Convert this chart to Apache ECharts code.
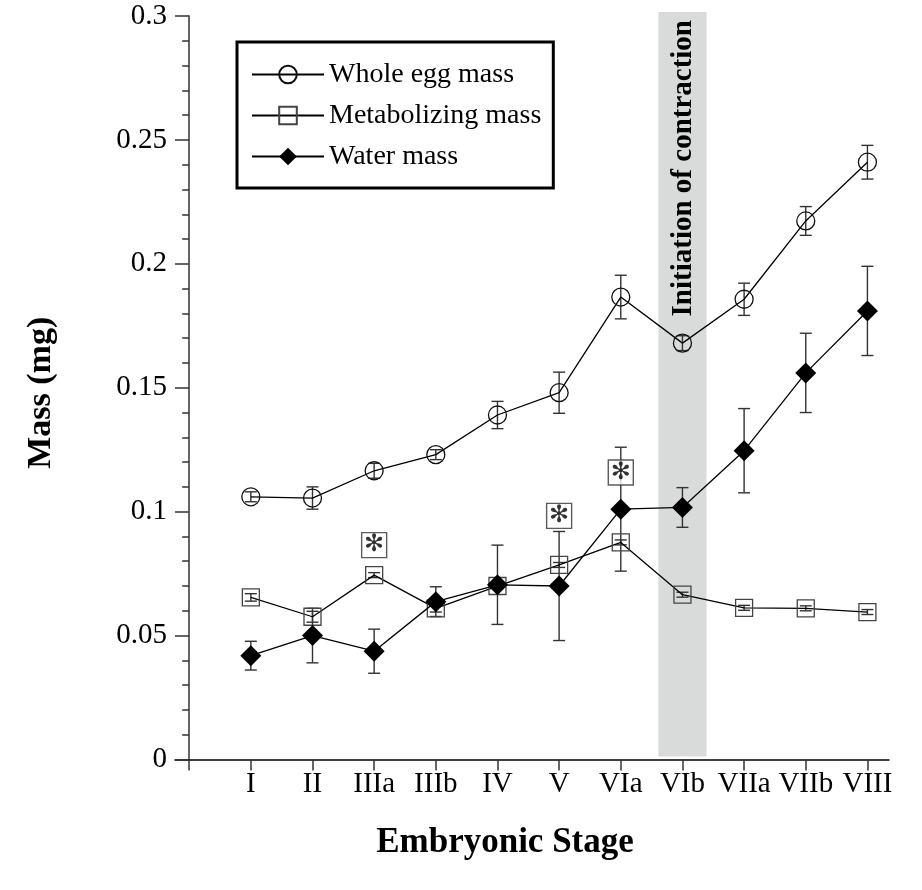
<!DOCTYPE html>
<html>
<head>
<meta charset="utf-8">
<script src="https://cdn.jsdelivr.net/npm/echarts@6/dist/echarts.min.js"></script>
<style>
  html, body { margin: 0; padding: 0; background: #fff; }
  #chart { width: 922px; height: 890px; }
</style>
</head>
<body>
<div id="chart"></div>
<script>
// Embryonic stages along the x axis
const stages = ['I', 'II', 'IIIa', 'IIIb', 'IV', 'V', 'VIa', 'VIb', 'VIIa', 'VIIb', 'VIII'];

// Mean masses (mg) and their error half-widths
const wholeEggMass = [0.106, 0.1055, 0.1165, 0.123, 0.139, 0.148, 0.1866, 0.168, 0.1857, 0.2173, 0.241];
const wholeEggErr  = [0.002, 0.0045, 0.003, 0.002, 0.0055, 0.0083, 0.0088, 0.003, 0.0065, 0.0058, 0.0068];
const metabolizingMass = [0.0654, 0.0576, 0.0744, 0.061, 0.070, 0.0785, 0.0876, 0.0665, 0.0612, 0.061, 0.0595];
const metabolizingErr  = [0.0015, 0.0022, 0.001, 0.0015, 0.001, 0.001, 0.001, 0.001, 0.001, 0.001, 0.001];
const waterMass = [0.0419, 0.050, 0.0437, 0.0637, 0.0705, 0.070, 0.101, 0.1017, 0.1246, 0.156, 0.181];
const waterErr  = [0.0058, 0.011, 0.0089, 0.006, 0.016, 0.022, 0.025, 0.008, 0.017, 0.016, 0.018];

// Significance markers (stage, height in mg)
const significantStages = ['IIIa', 'V', 'VIa'];
const significantHeights = [0.0865, 0.0983, 0.1158];

// Stage at which contraction starts
const contractionStage = 'VIb';

// Y axis ticks
const yTicks = [0, 0.05, 0.1, 0.15, 0.2, 0.25, 0.3];

const FONT = '"Liberation Serif", "Times New Roman", serif';
const pos = s => stages.indexOf(s) + 1;
const xPositions = stages.map((s, i) => i + 1);

function pairs(values) {
  return values.map((v, i) => [i + 1, v]);
}

function errorBars(values, errors) {
  return {
    type: 'custom',
    silent: true,
    z: 3,
    encode: { x: 0, y: 1 },
    data: values.map((v, i) => [i + 1, v, errors[i]]),
    renderItem(params, api) {
      const x = api.value(0), y = api.value(1), e = api.value(2);
      const top = api.coord([x, y + e]);
      const bot = api.coord([x, y - e]);
      const cap = 6;
      const st = { stroke: '#333', lineWidth: 1.4 };
      return {
        type: 'group',
        children: [
          { type: 'line', shape: { x1: top[0], y1: top[1], x2: bot[0], y2: bot[1] }, style: st },
          { type: 'line', shape: { x1: top[0] - cap, y1: top[1], x2: top[0] + cap, y2: top[1] }, style: st },
          { type: 'line', shape: { x1: bot[0] - cap, y1: bot[1], x2: bot[0] + cap, y2: bot[1] }, style: st }
        ]
      };
    }
  };
}

const lineStyle = { color: '#000', width: 1.3 };

const chart = echarts.init(document.getElementById('chart'), null, { renderer: 'canvas' });

chart.setOption({
  backgroundColor: '#fff',
  animation: false,
  grid: { left: 175, right: 33, top: 16, bottom: 130.5, containLabel: false },
  legend: {
    left: 237,
    top: 42,
    orient: 'vertical',
    data: ['Whole egg mass', 'Metabolizing mass', 'Water mass'],
    itemWidth: 72,
    itemHeight: 22,
    itemGap: 12,
    padding: [18, 12, 17, 14],
    borderColor: '#000',
    borderWidth: 3,
    backgroundColor: '#fff',
    textStyle: { fontFamily: FONT, fontSize: 28, color: '#000', lineHeight: 29 },
    selectedMode: false
  },
  xAxis: {
    type: 'value',
    min: -0.23,
    max: 11.35,
    splitLine: { show: false },
    axisLine: { show: true, lineStyle: { color: '#000', width: 1.5 } },
    axisTick: { show: true, length: 11, customValues: [0].concat(xPositions), lineStyle: { color: '#333', width: 1.5 } },
    axisLabel: {
      customValues: xPositions,
      formatter: v => stages[Math.round(v) - 1] || '',
      fontFamily: FONT, fontSize: 29, color: '#000', margin: 10
    },
    name: 'Embryonic Stage',
    nameLocation: 'middle',
    nameGap: 66,
    nameTextStyle: { fontFamily: FONT, fontSize: 35, fontWeight: 'bold', color: '#000', padding: [0, 54, 0, 0] }
  },
  yAxis: [
    {
      type: 'value',
      position: 'left',
      min: 0,
      max: 0.3,
      interval: 0.05,
      splitLine: { show: false },
      axisLine: { show: true, onZero: true, lineStyle: { color: '#333', width: 1.5 } },
      axisTick: { show: true, length: 11, lineStyle: { color: '#333', width: 1.5 } },
      minorTick: { show: true, splitNumber: 5, length: 7, lineStyle: { color: '#333', width: 1.5 } },
      axisLabel: {
        customValues: yTicks,
        fontFamily: FONT, fontSize: 29, color: '#000', margin: 8
      },
      name: 'Mass (mg)',
      nameLocation: 'middle',
      nameGap: 117,
      nameTextStyle: { fontFamily: FONT, fontSize: 34, fontWeight: 'bold', color: '#000', padding: [0, 10, 0, 0] }
    },
    {
      type: 'value',
      position: 'left',
      min: 0,
      max: 0.3,
      interval: 0.05,
      splitLine: { show: false },
      axisLine: { show: false, onZero: true },
      axisTick: { show: true, inside: true, length: 11, lineStyle: { color: '#333', width: 1.5 } },
      axisLabel: { show: false }
    }
  ],
  series: [
    {
      // shaded band marking the onset of contraction
      type: 'custom',
      silent: true,
      z: 1,
      encode: { x: 0, y: 1 },
      data: [[pos(contractionStage), 0.3]],
      renderItem(params, api) {
        const x = api.value(0);
        const tl = api.coord([x - 0.39, 0.3]);
        const br = api.coord([x + 0.39, 0]);
        return {
          type: 'group',
          children: [
            {
              type: 'rect',
              shape: { x: tl[0], y: tl[1] - 4, width: br[0] - tl[0], height: br[1] - tl[1] + 1 },
              style: { fill: '#d9dbdb' }
            },
            {
              type: 'text',
              x: (tl[0] + br[0]) / 2 + 1,
              y: tl[1] + 4,
              rotation: Math.PI / 2,
              style: {
                text: 'Initiation of contraction',
                align: 'right',
                verticalAlign: 'middle',
                fontFamily: FONT,
                fontSize: 29,
                fontWeight: 'bold',
                fill: '#000'
              }
            }
          ]
        };
      }
    },
    errorBars(wholeEggMass, wholeEggErr),
    errorBars(metabolizingMass, metabolizingErr),
    errorBars(waterMass, waterErr),
    {
      name: 'Whole egg mass',
      type: 'line',
      z: 4,
      data: pairs(wholeEggMass),
      symbol: 'circle',
      symbolSize: 18,
      lineStyle: lineStyle,
      itemStyle: { color: 'rgba(255,255,255,0)', borderColor: '#111', borderWidth: 1.3 }
    },
    {
      name: 'Metabolizing mass',
      type: 'line',
      z: 4,
      data: pairs(metabolizingMass),
      symbol: 'rect',
      symbolSize: 17,
      lineStyle: lineStyle,
      itemStyle: { color: 'rgba(255,255,255,0)', borderColor: '#444', borderWidth: 1.3 }
    },
    {
      name: 'Water mass',
      type: 'line',
      z: 5,
      data: pairs(waterMass),
      symbol: 'diamond',
      symbolSize: [21, 21],
      lineStyle: lineStyle,
      itemStyle: { color: '#000', borderColor: '#000', borderWidth: 0 }
    },
    {
      // significance markers
      type: 'scatter',
      z: 6,
      silent: true,
      data: significantStages.map((s, i) => [pos(s), significantHeights[i]]),
      symbol: 'rect',
      symbolSize: 25,
      itemStyle: { color: '#fff', borderColor: '#333', borderWidth: 1.4 },
      label: {
        show: true,
        position: 'inside',
        formatter: '\u273B',
        fontFamily: 'DejaVu Sans',
        fontSize: 24,
        fontWeight: 'bold',
        color: '#000'
      }
    }
  ]
});
</script>
</body>
</html>
